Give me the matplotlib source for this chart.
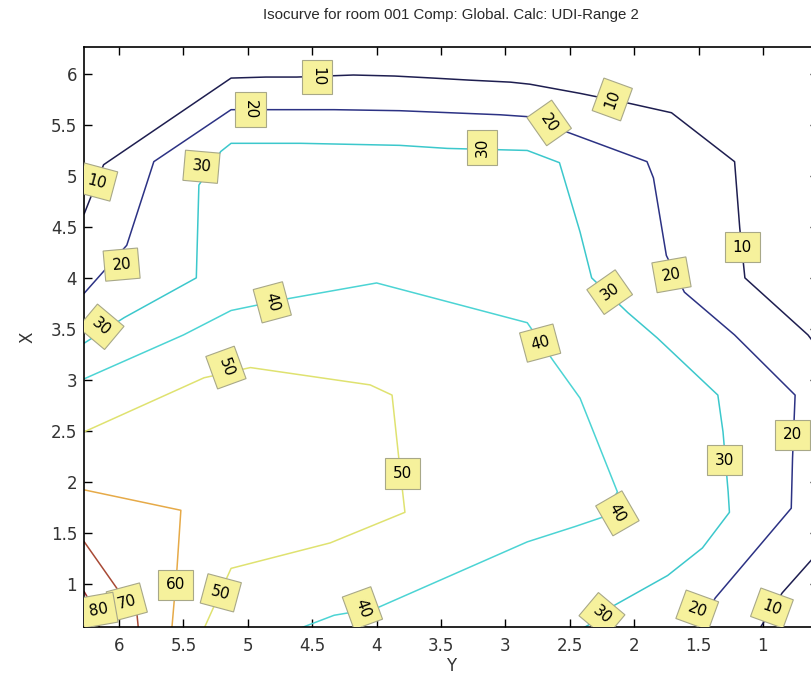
import matplotlib
matplotlib.use("Agg")
import matplotlib.pyplot as plt

# isocurves: (Y, X) vertices for each level
levels = [10, 20, 30, 40, 50, 60, 70, 80]

iso_10_y = [6.27, 6.12, 5.13, 4.86, 4.62, 4.18, 3.86, 3.56, 3.28, 2.96, 2.81, 2.42, 2.03, 1.71, 1.22, 1.18, 1.14, 0.65, 0.59, 0.59, 0.85, 1.02]
iso_10_x = [4.63, 5.11, 5.96, 5.97, 5.97, 5.99, 5.98, 5.96, 5.94, 5.92, 5.90, 5.81, 5.71, 5.62, 5.14, 4.49, 4.00, 3.44, 3.34, 1.28, 0.91, 0.57]

iso_20_y = [6.27, 5.94, 5.73, 5.13, 4.33, 3.82, 3.43, 3.04, 2.81, 2.52, 1.90, 1.85, 1.75, 1.61, 1.22, 0.75, 0.77, 0.78, 1.37, 1.51]
iso_20_x = [3.85, 4.32, 5.14, 5.65, 5.65, 5.64, 5.62, 5.60, 5.58, 5.43, 5.14, 4.98, 4.22, 3.86, 3.44, 2.85, 2.23, 1.74, 0.86, 0.56]

iso_30_y = [6.27, 5.96, 5.40, 5.38, 5.21, 5.13, 4.59, 3.82, 3.45, 2.83, 2.58, 2.42, 2.33, 2.05, 1.82, 1.35, 1.31, 1.27, 1.26, 1.47, 1.74, 2.15, 2.36, 2.46]
iso_30_x = [3.36, 3.61, 4.00, 4.91, 5.24, 5.32, 5.32, 5.30, 5.27, 5.25, 5.13, 4.45, 4.00, 3.66, 3.41, 2.85, 2.49, 1.90, 1.70, 1.35, 1.08, 0.79, 0.59, 0.52]

iso_40_y = [6.27, 5.50, 5.13, 4.67, 4.00, 2.83, 2.63, 2.42, 2.13, 2.25, 2.46, 2.83, 4.00, 4.33, 4.60]
iso_40_x = [3.01, 3.44, 3.68, 3.80, 3.95, 3.56, 3.19, 2.82, 1.90, 1.65, 1.56, 1.41, 0.76, 0.69, 0.56]

iso_50_y = [6.27, 5.34, 4.98, 4.05, 3.88, 3.83, 3.78, 4.36, 5.13, 5.34]
iso_50_x = [2.49, 3.02, 3.12, 2.95, 2.85, 2.26, 1.70, 1.40, 1.15, 0.56]

iso_60_y = [6.27, 5.52, 5.55, 5.59]
iso_60_x = [1.92, 1.72, 1.15, 0.56]

iso_70_y = [6.27, 6.02, 5.86, 5.85]
iso_70_x = [1.41, 0.96, 0.69, 0.56]

iso_80_y = [6.27, 6.21, 6.15]
iso_80_x = [0.92, 0.79, 0.56]

# clabel positions (Y, X) and values
label_vals = [10, 10, 10, 10, 10,
              20, 20, 20, 20, 20, 20,
              30, 30, 30, 30, 30, 30,
              40, 40, 40, 40,
              50, 50, 50,
              60, 70, 80]
label_y = [4.46, 2.17, 6.17, 1.16, 0.93,
           4.98, 2.66, 5.98, 1.71, 0.77, 1.51,
           3.18, 5.36, 6.14, 2.19, 1.30, 2.25,
           4.81, 2.73, 2.13, 4.11,
           5.17, 3.80, 5.21,
           5.56, 5.94, 6.16]
label_x = [5.97, 5.75, 4.94, 4.30, 0.76,
           5.65, 5.52, 4.13, 4.03, 2.46, 0.74,
           5.28, 5.09, 3.52, 3.86, 2.21, 0.69,
           3.76, 3.36, 1.69, 0.76,
           3.12, 2.08, 0.91,
           0.99, 0.82, 0.74]
label_rot = [-90, 70, -15, 0, -20,
             -90, -55, 5, 10, 0, -20,
             90, -5, -40, 35, 0, -40,
             -75, 15, -60, -70,
             -70, 0, -15,
             0, 15, 10]

level_colors = ['#1e1e50', '#2c3284', '#3cc8cc', '#4cd4d4',
                '#dfe270', '#e6aa48', '#a84a36', '#9a2c2c']

lines_y = [iso_10_y, iso_20_y, iso_30_y, iso_40_y, iso_50_y, iso_60_y, iso_70_y, iso_80_y]
lines_x = [iso_10_x, iso_20_x, iso_30_x, iso_40_x, iso_50_x, iso_60_x, iso_70_x, iso_80_x]

plt.rcParams['font.family'] = ['DejaVu Sans']

fig = plt.figure(figsize=(8.11, 6.79), dpi=100)
ax = fig.add_axes([0.1036, 0.0766, 0.9046, 0.8542])

for ys, xs, c in zip(lines_y, lines_x, level_colors):
    ax.plot(ys, xs, color=c, lw=1.1, zorder=2)

for v, y, x, r in zip(label_vals, label_y, label_x, label_rot):
    ax.text(y, x, str(v), rotation=r, rotation_mode='anchor', ha='center', va='center',
            fontsize=11, color='black', zorder=4, clip_on=True,
            bbox=dict(boxstyle='square,pad=0.5', fc='#f6f19c', ec='#a8a888', lw=0.8))

ax.set_xlim(6.272, 0.575)
ax.set_ylim(0.575, 6.265)
ax.set_xticks([6, 5.5, 5, 4.5, 4, 3.5, 3, 2.5, 2, 1.5, 1])
ax.set_xticklabels(['6', '5.5', '5', '4.5', '4', '3.5', '3', '2.5', '2', '1.5', '1'])
ax.set_yticks([1, 1.5, 2, 2.5, 3, 3.5, 4, 4.5, 5, 5.5, 6])
ax.set_yticklabels(['1', '1.5', '2', '2.5', '3', '3.5', '4', '4.5', '5', '5.5', '6'])
ax.tick_params(direction='in', length=5.5, width=1.0, top=True, right=True,
               labelsize=12, labelcolor='#333333')
ax.tick_params(axis='x', pad=7)
ax.tick_params(axis='y', pad=5)
for s in ax.spines.values():
    s.set_linewidth(1.2)

ax.set_xlabel('Y', fontsize=12, color='#333333', labelpad=2)
ax.set_ylabel('X', fontsize=12, color='#333333', labelpad=10)
ax.set_title('Isocurve for room 001 Comp: Global. Calc: UDI-Range 2', fontsize=10.8,
             color='#2a2a2a', pad=20, family=['Liberation Sans', 'DejaVu Sans'])

fig.savefig('out.png', dpi=100)
